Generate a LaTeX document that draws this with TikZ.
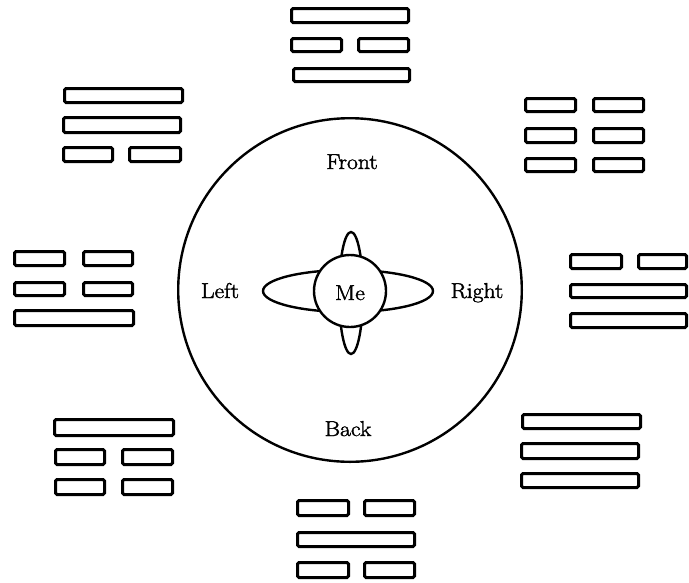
\documentclass[tikz,border=0pt]{standalone}
\usepackage{fontspec}
\setmainfont{Latin Modern Roman}
\newfontfamily\lblfont{Latin Modern Roman}[FakeStretch=1.1,FakeBold=1.8]
\newcommand\tbar[4]{\draw[barline] ({#1+1.5},{#2+1.5}) rectangle ({#3-1.5},{#4-1.5});}
\begin{document}
\begin{tikzpicture}[x=1pt,y=-1pt,
  barline/.style={line width=3pt,rounded corners=1.5pt},
  ring/.style={line width=2.4pt},
  lbl/.style={font=\lblfont\fontsize{21.5}{25}\selectfont,anchor=base,inner sep=0pt}]
\useasboundingbox (0,0) rectangle (689,582);
% big circle
\draw[ring] (350,290) circle (171.8);
% lobes
\draw[ring] (348,291) ellipse (85 and 21);
\draw[ring] (351,293) ellipse (12 and 61);
\draw[ring,fill=white] (350,291) circle (36);
% labels
\node[lbl] (front) at (352,169) {Front};
\node[lbl] (back) at (348,436) {Back};
\node[lbl] (left) at (220,298) {Left};
\node[lbl] (right) at (477,298) {Right};
\node[lbl] (me) at (350,300) {Me};
% top
\tbar{290}{7}{410}{24}
\tbar{290}{37}{343}{53}\tbar{357}{37}{410}{53}
\tbar{292}{67}{411}{83}
% top-left
\tbar{63}{87}{184}{104}
\tbar{62}{116}{182}{134}
\tbar{62}{146}{114}{163}\tbar{128}{146}{182}{163}
% top-right
\tbar{524}{97}{577}{113}\tbar{592}{97}{645}{113}
\tbar{524}{127}{577}{144}\tbar{592}{127}{645}{144}
\tbar{524}{157}{577}{173}\tbar{592}{157}{645}{173}
% left
\tbar{13}{250}{66}{267}\tbar{82}{250}{134}{267}
\tbar{13}{281}{66}{297}\tbar{82}{281}{134}{297}
\tbar{13}{309}{135}{327}
% right
\tbar{569}{253}{623}{270}\tbar{637}{253}{688}{270}
\tbar{569}{283}{688}{299}
\tbar{569}{312}{688}{329}
% bottom-left
\tbar{53}{418}{175}{437}
\tbar{54}{448}{106}{466}\tbar{121}{448}{174}{466}
\tbar{54}{478}{106}{496}\tbar{121}{478}{174}{496}
% bottom-right
\tbar{521}{413}{642}{430}
\tbar{520}{442}{640}{460}
\tbar{520}{472}{640}{489}
% bottom
\tbar{296}{499}{350}{517}\tbar{363}{499}{416}{517}
\tbar{296}{531}{416}{548}
\tbar{296}{561}{350}{579}\tbar{363}{561}{416}{579}
\end{tikzpicture}
\end{document}
